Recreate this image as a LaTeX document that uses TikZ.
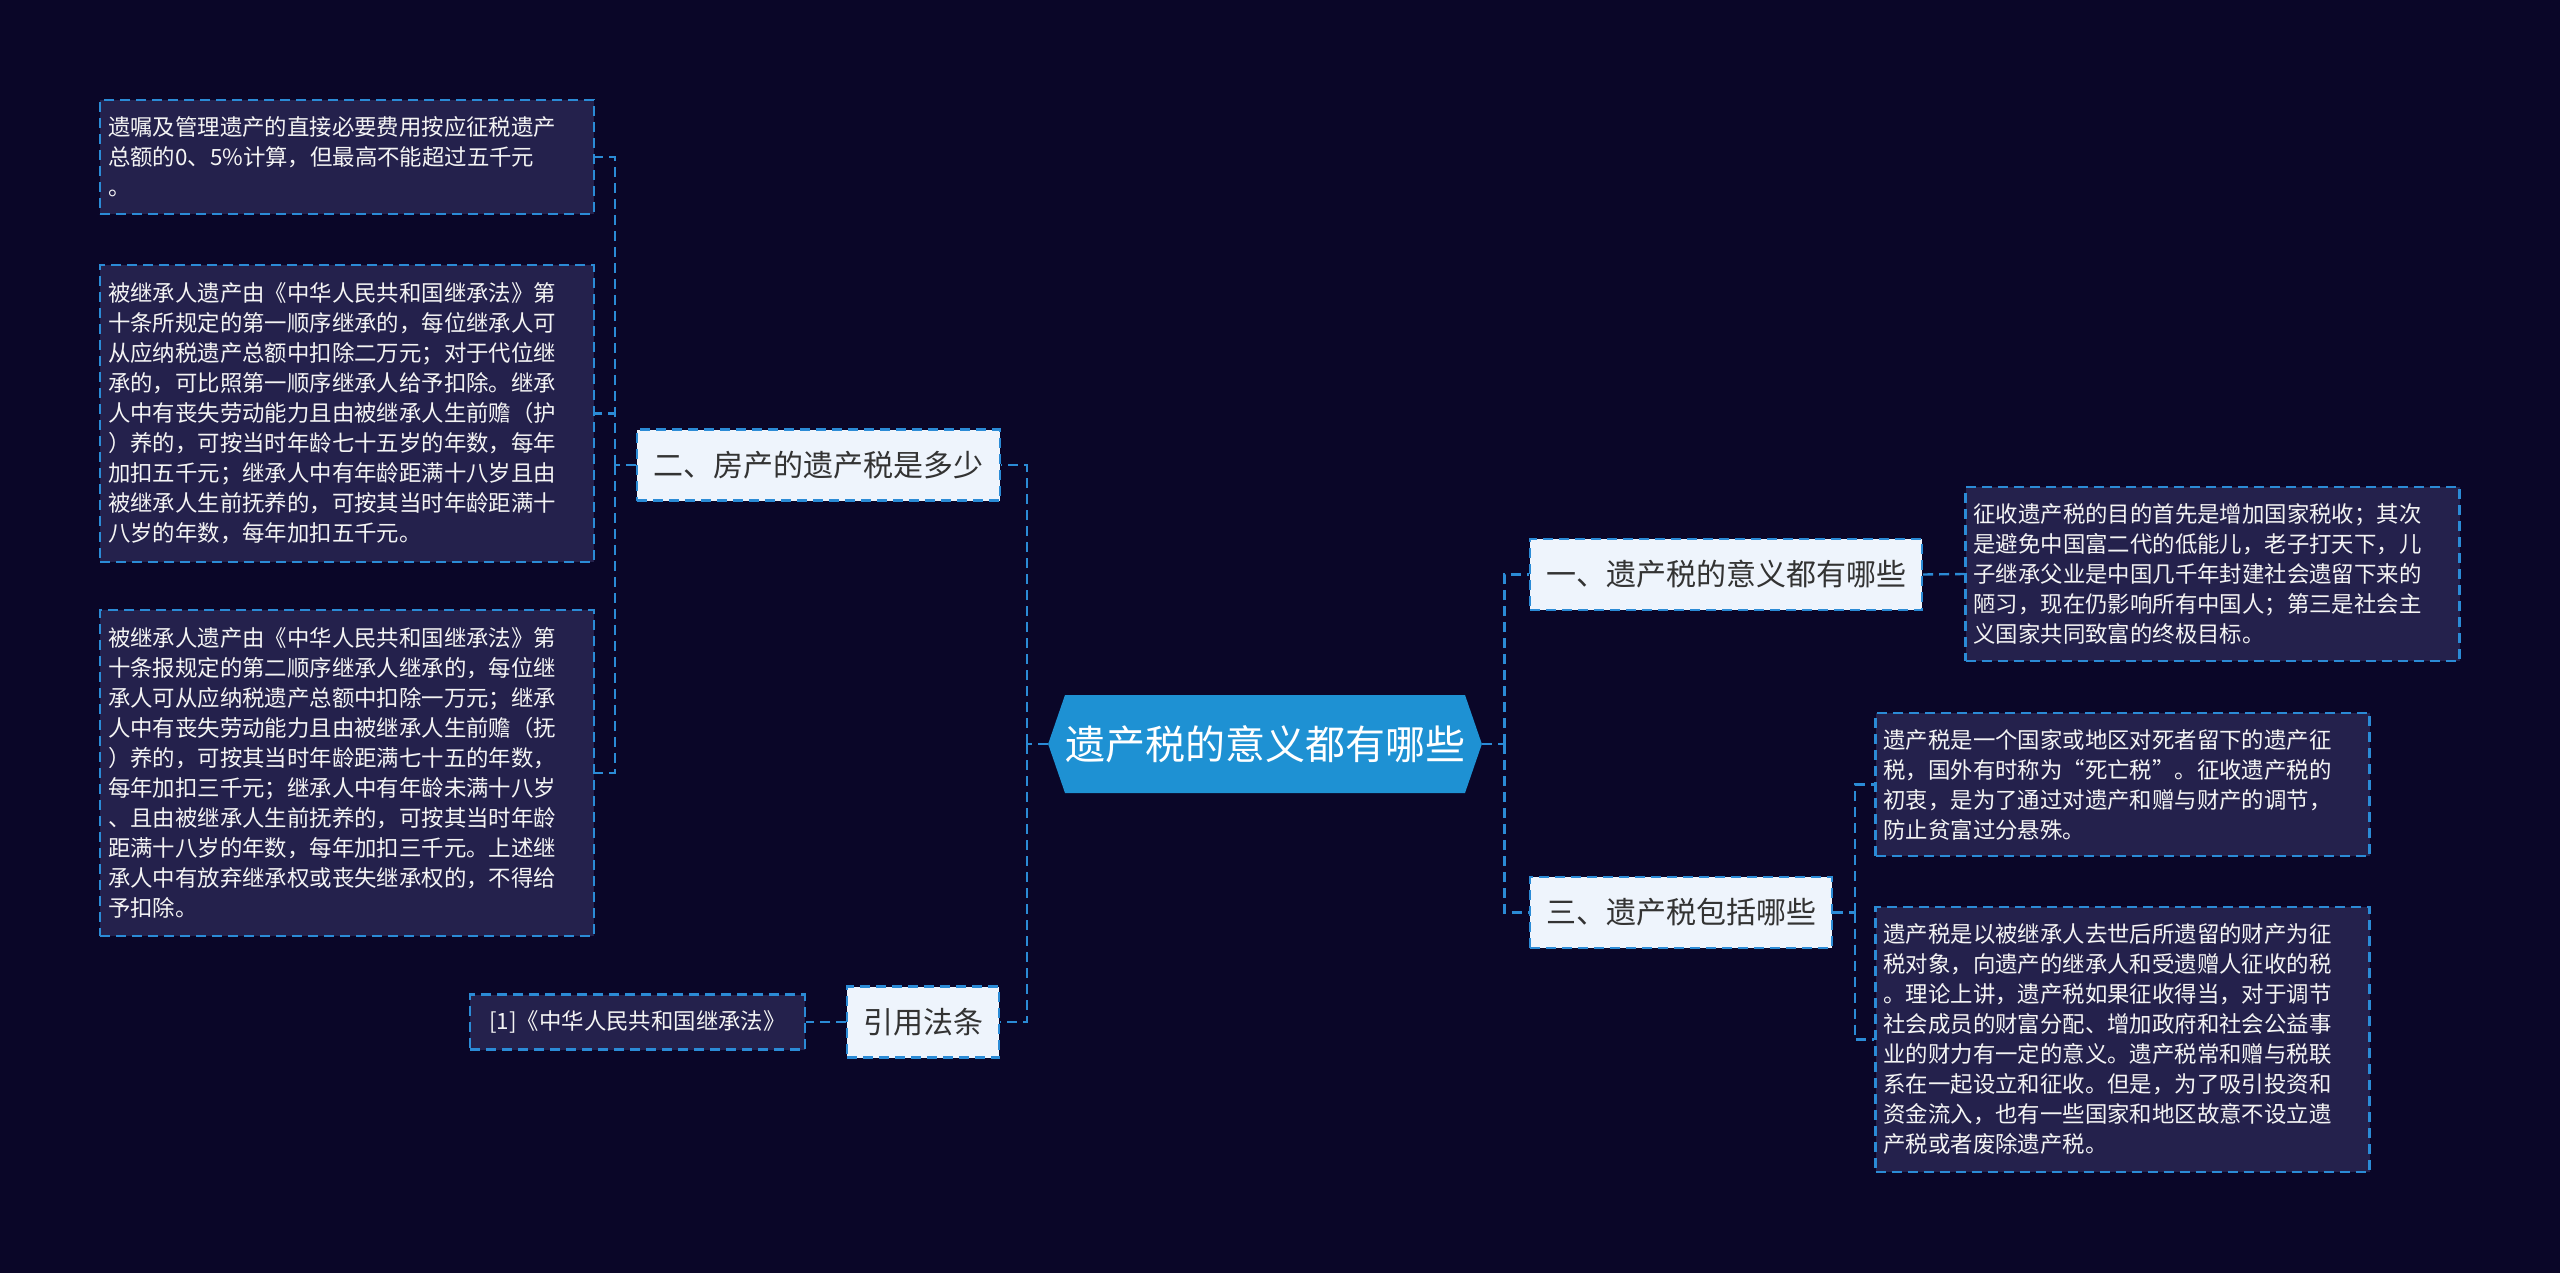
\documentclass[tikz,border=0pt]{standalone}
\usepackage{fontspec}
\setmainfont{Noto Sans CJK SC}
\usetikzlibrary{shapes.symbols}
\definecolor{bg}{HTML}{0A0628}
\definecolor{notefill}{HTML}{24214C}
\definecolor{edge}{HTML}{2B8BD6}
\definecolor{lvfill}{HTML}{EEF4FC}
\definecolor{rootfill}{HTML}{1E91D3}
\definecolor{lvtext}{HTML}{333333}
\definecolor{notetext}{HTML}{F4F4F4}
\begin{document}
\begin{tikzpicture}[x=0.5pt,y=-0.5pt,
  dashline/.style={draw=edge, line width=1.2pt, dash pattern=on 5pt off 3pt},
  notebox/.style={rectangle, dashline, fill=notefill, text=notetext,
    font=\fontsize{11.2}{15}\selectfont, align=left, text width=239pt,
    inner xsep=4pt, inner ysep=0pt},
  lvbox/.style={rectangle, dashline, fill=lvfill, text=lvtext,
    font=\fontsize{15}{17}\selectfont, inner sep=0pt, minimum height=35.5pt},
  citebox/.style={rectangle, dashline, fill=notefill, text=notetext,
    font=\fontsize{11.2}{15}\selectfont, inner sep=0pt, minimum width=167.5pt, minimum height=27.5pt},
  rootbox/.style={signal, signal to=west and east, signal pointer angle=142,
    fill=rootfill, draw=none, text=white, font=\fontsize{20}{24}\selectfont,
    inner sep=0pt, minimum width=213pt, minimum height=49pt}
]
\fill[bg] (0,0) rectangle (2560,1273);
\useasboundingbox (0,0) rectangle (2560,1273);

% root
\node[rootbox] (root) at (1265,744) {遗产税的意义都有哪些};

% left branch
\node[lvbox, minimum width=181.5pt] (two) at (818.5,465) {二、房产的遗产税是多少};
\node[lvbox, minimum width=76pt] (cite) at (923,1022) {引用法条};

\node[notebox, minimum height=57pt] (n1) at (347,157) {遗嘱及管理遗产的直接必要费用按应征税遗产\\总额的0、5\%计算，但最高不能超过五千元\\。};
\node[notebox, minimum height=148.5pt] (n2) at (347,413.5) {被继承人遗产由《中华人民共和国继承法》第\\十条所规定的第一顺序继承的，每位继承人可\\从应纳税遗产总额中扣除二万元；对于代位继\\承的，可比照第一顺序继承人给予扣除。继承\\人中有丧失劳动能力且由被继承人生前赡（护\\）养的，可按当时年龄七十五岁的年数，每年\\加扣五千元；继承人中有年龄距满十八岁且由\\被继承人生前抚养的，可按其当时年龄距满十\\八岁的年数，每年加扣五千元。};
\node[notebox, minimum height=163pt] (n3) at (347,773) {被继承人遗产由《中华人民共和国继承法》第\\十条报规定的第二顺序继承人继承的，每位继\\承人可从应纳税遗产总额中扣除一万元；继承\\人中有丧失劳动能力且由被继承人生前赡（抚\\）养的，可按其当时年龄距满七十五的年数，\\每年加扣三千元；继承人中有年龄未满十八岁\\、且由被继承人生前抚养的，可按其当时年龄\\距满十八岁的年数，每年加扣三千元。上述继\\承人中有放弃继承权或丧失继承权的，不得给\\予扣除。};
\node[citebox] (law) at (637.5,1022) {[1]《中华人民共和国继承法》};

% right branch
\node[lvbox, minimum width=196pt] (one) at (1726,574.5) {一、遗产税的意义都有哪些};
\node[lvbox, minimum width=151pt] (three) at (1681,912.5) {三、遗产税包括哪些};

\node[notebox, minimum height=87pt] (n4) at (2212.5,574) {征收遗产税的目的首先是增加国家税收；其次\\是避免中国富二代的低能儿，老子打天下，儿\\子继承父业是中国几千年封建社会遗留下来的\\陋习，现在仍影响所有中国人；第三是社会主\\义国家共同致富的终极目标。};
\node[notebox, minimum height=71.5pt] (n5) at (2122.5,784.5) {遗产税是一个国家或地区对死者留下的遗产征\\税，国外有时称为“死亡税”。征收遗产税的\\初衷，是为了通过对遗产和赠与财产的调节，\\防止贫富过分悬殊。};
\node[notebox, minimum height=132.5pt] (n6) at (2122.5,1039.5) {遗产税是以被继承人去世后所遗留的财产为征\\税对象，向遗产的继承人和受遗赠人征收的税\\。理论上讲，遗产税如果征收得当，对于调节\\社会成员的财富分配、增加政府和社会公益事\\业的财力有一定的意义。遗产税常和赠与税联\\系在一起设立和征收。但是，为了吸引投资和\\资金流入，也有一些国家和地区故意不设立遗\\产税或者废除遗产税。};

% connectors
\draw[dashline] (root.west) -- ++(-21,0) coordinate (lj);
\draw[dashline] (lj) |- (two.east);
\draw[dashline] (lj) |- (cite.east);
\draw[dashline] (two.west) -- ++(-21,0) coordinate (lk);
\draw[dashline] (lk) |- (n1.east);
\draw[dashline] (lk) |- (n2.east);
\draw[dashline] (lk) |- (n3.east);
\draw[dashline] (cite.west) -- (law.east);

\draw[dashline] (root.east) -- ++(22,0) coordinate (rj);
\draw[dashline] (rj) |- (one.west);
\draw[dashline] (rj) |- (three.west);
\draw[dashline] (one.east) -- (n4.west);
\draw[dashline] (three.east) -- ++(22,0) coordinate (rk);
\draw[dashline] (rk) |- (n5.west);
\draw[dashline] (rk) |- (n6.west);
\end{tikzpicture}
\end{document}
